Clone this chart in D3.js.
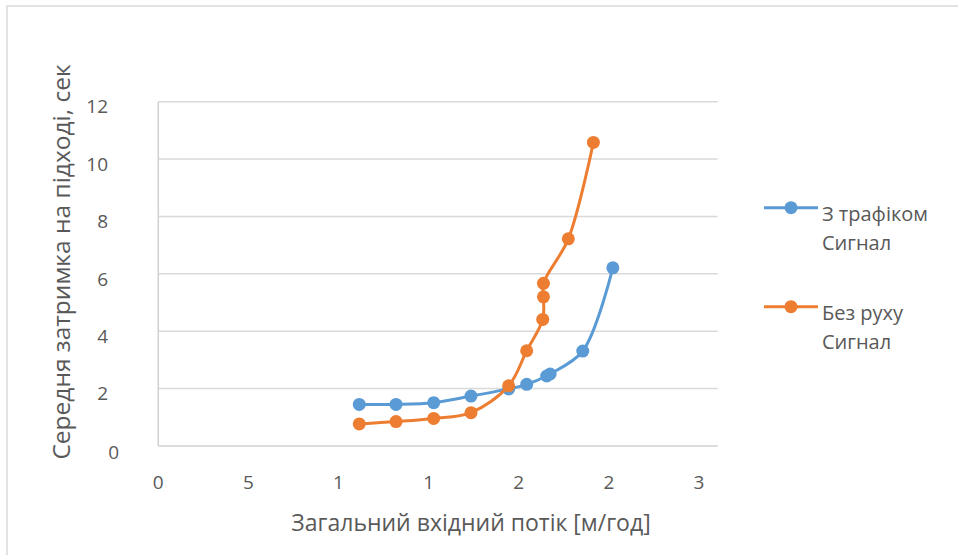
<!DOCTYPE html>
<html><head><meta charset="utf-8">
<script src="https://cdn.jsdelivr.net/npm/d3@7"></script>
<style>body{margin:0;background:#fff}svg{display:block}text{font-family:"Open Sans",sans-serif;fill:#595959}</style>
</head><body>
<svg id="c" width="958" height="555"></svg>
<script>
const seriesNames = [["З трафіком","Сигнал"],["Без руху","Сигнал"]];
const colors = ["#5b9bd5","#ed7d31"];
const trafficX = [1.115,1.319,1.528,1.735,1.944,2.044,2.155,2.174,2.355,2.522];
const trafficY = [1.45,1.45,1.51,1.74,1.99,2.15,2.44,2.51,3.31,6.21];
const noTrafficX = [1.115,1.319,1.528,1.735,1.944,2.044,2.133,2.137,2.137,2.275,2.414];
const noTrafficY = [0.77,0.85,0.96,1.16,2.10,3.32,4.41,5.20,5.67,7.22,10.58];
const xTickValues = [0,0.5,1,1.5,2,2.5,3];
const xTickLabels = ["0","5","1","1","2","2","3"];
const yTickValues = [0,2,4,6,8,10,12];
const xTitle = "Загальний вхідний потік [м/год]";
const yTitle = "Середня затримка на підході, сек";

const svg = d3.select("#c");
svg.append("rect").attr("x",7).attr("y",6).attr("width",980).attr("height",580)
  .attr("fill","none").attr("stroke","#d9d9d9").attr("stroke-width",1.5);

const L=158.3, T=101.7, B=446, R=717.7;
const x = d3.scaleLinear().domain([0,3]).range([L,699]);
const y = d3.scaleLinear().domain([0,12]).range([B,T]);

svg.append("g").selectAll("line").data(yTickValues.filter(v=>v>0)).join("line")
  .attr("x1",L).attr("x2",R).attr("y1",d=>y(d)).attr("y2",d=>y(d))
  .attr("stroke","#d9d9d9").attr("stroke-width",1.5);
svg.append("line").attr("x1",L).attr("x2",R).attr("y1",B).attr("y2",B).attr("stroke","#d0d0d0").attr("stroke-width",1.5);
svg.append("line").attr("x1",L).attr("x2",L).attr("y1",T).attr("y2",B).attr("stroke","#d0d0d0").attr("stroke-width",1.5);

svg.append("g").selectAll("text").data(yTickValues).join("text")
  .attr("x",d=>d===0?119:108).attr("y",d=>y(d)+(d===0?6:5)).attr("dy","0.35em")
  .attr("text-anchor","end").attr("font-size",19).text(d=>d);
svg.append("g").selectAll("text").data(xTickValues).join("text")
  .attr("x",d=>x(d)).attr("y",489).attr("text-anchor","middle").attr("font-size",19)
  .text((d,i)=>xTickLabels[i]);

svg.append("text").attr("x",471).attr("y",531).attr("text-anchor","middle").attr("font-size",23).text(xTitle);
svg.append("text").attr("transform","translate(70,262) rotate(-90)").attr("text-anchor","middle").attr("font-size",24.5).text(yTitle);

const line = d3.line().x(d=>x(d[0])).y(d=>y(d[1])).curve(d3.curveCatmullRom.alpha(0.5));
const series = [d3.zip(trafficX,trafficY), d3.zip(noTrafficX,noTrafficY)];
series.forEach((s,i)=>{
  svg.append("path").datum(s).attr("d",line).attr("fill","none").attr("stroke",colors[i]).attr("stroke-width",3);
  svg.append("g").selectAll("circle").data(s).join("circle")
    .attr("cx",d=>x(d[0])).attr("cy",d=>y(d[1])).attr("r",6.5).attr("fill",colors[i]);
});

const ly=[207.7,306.7];
seriesNames.forEach((n,i)=>{
  const g=svg.append("g");
  g.append("line").attr("x1",764).attr("x2",818).attr("y1",ly[i]).attr("y2",ly[i]).attr("stroke",colors[i]).attr("stroke-width",3);
  g.append("circle").attr("cx",791).attr("cy",ly[i]).attr("r",6.5).attr("fill",colors[i]);
  g.append("text").attr("x",822).attr("y",ly[i]+13).attr("font-size",20).text(n[0]);
  g.append("text").attr("x",822).attr("y",ly[i]+42).attr("font-size",20).text(n[1]);
});
</script>
</body></html>
